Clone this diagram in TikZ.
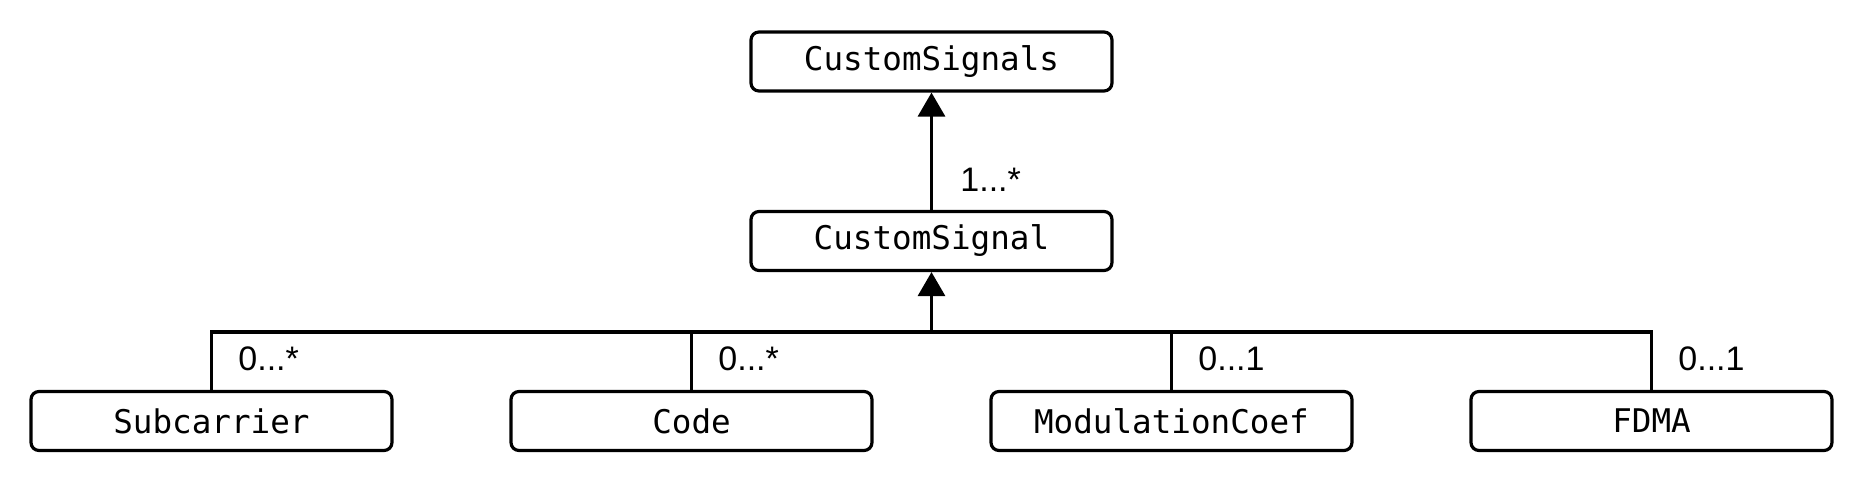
\documentclass[tikz,border=0pt]{standalone}
\usepackage{fontspec}
\setmainfont{Liberation Sans}
\newfontfamily\boxmono{DejaVu Sans Mono}
\usetikzlibrary{arrows.meta}
\begin{document}
\begin{tikzpicture}[x=0.5pt,y=-0.5pt,
  cls/.style={draw, line width=1.6pt, rounded corners=4pt, minimum width=180.5pt, minimum height=29.5pt, inner sep=0pt, font=\boxmono\fontsize{16.3}{19}\selectfont},
  conn/.style={line width=1.6pt},
  arr/.style={line width=1.6pt, -{Triangle[width=13.5pt,length=12pt]}},
  mult/.style={anchor=west, inner sep=0pt, font=\fontsize{17}{20}\selectfont}]
\useasboundingbox (0,0) rectangle (1860,480);
\node[cls] (top) at (931.5,61.5) {CustomSignals};
\node[cls] (cs) at (931.5,241) {CustomSignal};
\node[cls] (sub) at (211.5,421) {Subcarrier};
\node[cls] (code) at (691.5,421) {Code};
\node[cls] (mod) at (1171.5,421) {ModulationCoef};
\node[cls] (fdma) at (1651.5,421) {FDMA};
\coordinate (bus) at (931.5,332);
\draw[arr] (cs.north) -- (top.south);
\draw[conn] (sub.north) |- (bus) -| (fdma.north);
\draw[conn] (code.north) -- (code.north |- bus);
\draw[conn] (mod.north) -- (mod.north |- bus);
\draw[arr] (bus) -- (cs.south);
\node[mult] (m1) at (960,180) {1...*};
\node[mult] (m2) at (238,359) {0...*};
\node[mult] (m3) at (718,359) {0...*};
\node[mult] (m4) at (1198,359) {0...1};
\node[mult] (m5) at (1678,359) {0...1};
\end{tikzpicture}
\end{document}
